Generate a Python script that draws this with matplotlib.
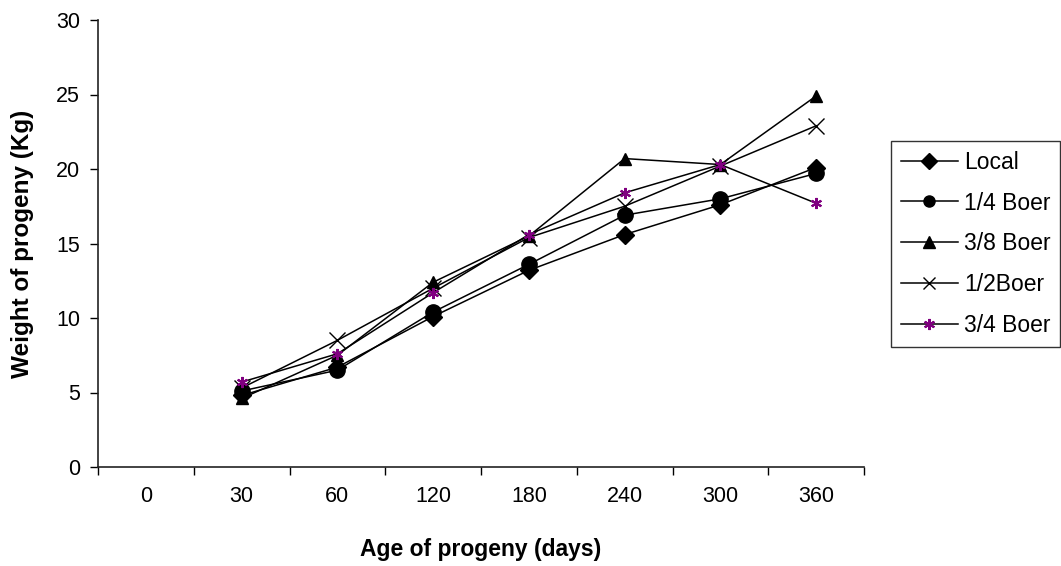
import matplotlib
matplotlib.use("Agg")
import matplotlib.pyplot as plt
import numpy as np

plt.rcParams['font.family'] = ['Liberation Sans', 'DejaVu Sans']

ages = ['0', '30', '60', '120', '180', '240', '300', '360']

# weights (kg) per breed group, starting at 30 days
local = [4.8, 6.7, 10.1, 13.2, 15.6, 17.6, 20.1]
boer_1_4 = [5.1, 6.5, 10.4, 13.6, 16.9, 18.0, 19.7]
boer_3_8 = [4.6, 7.5, 12.4, 15.5, 20.7, 20.3, 24.9]
boer_1_2 = [5.3, 8.5, 12.0, 15.4, 17.5, 20.2, 22.9]
boer_3_4 = [5.7, 7.6, 11.7, 15.6, 18.4, 20.3, 17.7]

fig = plt.figure(figsize=(10.61, 5.66), dpi=100)
ax = fig.add_axes([98 / 1061, 99 / 566, 766 / 1061, 447 / 566])

x = np.arange(1, len(ages))
lw = 1.1
ax.plot(x, local, color='black', lw=lw, marker='D', ms=9, mfc='black', mec='black', label='Local')
ax.plot(x, boer_1_4, color='black', lw=lw, marker='o', ms=11, mfc='black', mec='black', label='1/4 Boer')
ax.plot(x, boer_3_8, color='black', lw=lw, marker='^', ms=9, mfc='black', mec='black', label='3/8 Boer')
ax.plot(x, boer_1_2, color='black', lw=lw, marker='x', ms=11, mew=1.0, mec='black', label='1/2Boer')
ax.plot(x, boer_3_4, color='black', lw=lw, marker=(6, 2, 0), ms=8, mew=1.5, mec='#800080',
        mfc='#800080', label='3/4 Boer')

ax.set_xlim(-0.5, len(ages) - 0.5)
ax.set_ylim(0, 30)
ax.set_yticks(np.arange(0, 31, 5))
ax.set_xticks(np.arange(len(ages)))
ax.set_xticklabels(ages)
ax.set_xticks(np.arange(-0.5, len(ages), 1), minor=True)
ax.tick_params(axis='x', which='major', length=0, pad=14, labelsize=15.5)
ax.tick_params(axis='x', which='minor', length=6, width=1, direction='out')
ax.tick_params(axis='y', length=6, width=1, direction='out', labelsize=15.5, pad=7)

for s in ['top', 'right']:
    ax.spines[s].set_visible(False)
for s in ['left', 'bottom']:
    ax.spines[s].set_linewidth(1.2)
    ax.spines[s].set_color('#222222')

ax.set_xlabel('Age of progeny (days)', fontsize=16.5, fontweight='bold', labelpad=22)
ax.set_ylabel('Weight of progeny (Kg)', fontsize=17.5, fontweight='bold', labelpad=16)

leg = fig.legend(loc='upper left', bbox_to_anchor=(891 / 1061, 1 - 141 / 566), frameon=True,
                 fancybox=False, edgecolor='black', fontsize=16.5, handlelength=2.5,
                 handletextpad=0.26, labelspacing=0.78, borderpad=0.42, borderaxespad=0)
leg.get_frame().set_linewidth(1.0)
for h in leg.legend_handles:
    h.set_markersize(8)

fig.savefig('out.png', dpi=100)
